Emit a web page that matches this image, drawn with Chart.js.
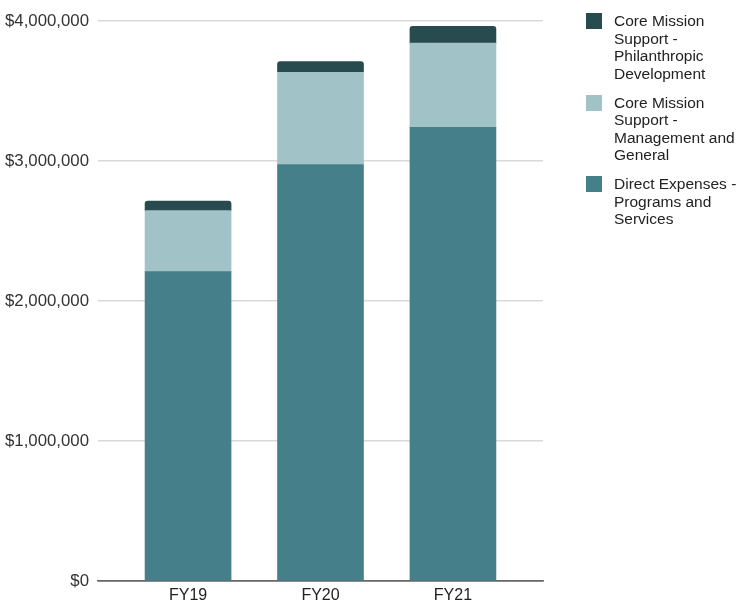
<!DOCTYPE html>
<html>
<head>
<meta charset="utf-8">
<script src="https://cdn.jsdelivr.net/npm/chart.js@4/dist/chart.umd.min.js"></script>
<style>
  html, body { margin: 0; padding: 0; background: #fff; }
  #wrap { width: 748px; height: 604px; position: relative; }
  #legenda {
    position: absolute; left: 586px; top: 12px;
    font-family: "Liberation Sans", Arial, sans-serif;
    font-size: 15.5px; line-height: 17.5px; color: #222;
  }
  .item { display: flex; align-items: flex-start; margin-bottom: 11.5px; }
  .caixa { width: 16px; height: 16px; margin-top: 1px; margin-right: 12px; flex: none; }
</style>
</head>
<body>
<div id="wrap">
  <canvas id="grafico-despesas"></canvas>
  <div id="legenda"></div>
</div>
<script>
// dados
const categorias = ['FY19', 'FY20', 'FY21'];
const despesasDiretas = [2210000, 2975000, 3240000];
const gestaoGeral = [436000, 659000, 602000];
const filantropia = [67000, 77000, 120000];

const rotulosSeries = [
  ['Direct Expenses -', 'Programs and', 'Services'],
  ['Core Mission', 'Support -', 'Management and', 'General'],
  ['Core Mission', 'Support -', 'Philanthropic', 'Development']
];
const coresSeries = ['#457f89', '#a1c3c8', '#274b4f'];
const ticksY = [0, 1000000, 2000000, 3000000, 4000000];

const fonte = '"Liberation Sans", Arial, sans-serif';

// monta os pontos {x, y} para o eixo linear
function pontos(valores) {
  return valores.map(function (v, i) { return { x: i, y: v }; });
}

const config = {
  type: 'bar',
  data: {
    datasets: [
      {
        label: rotulosSeries[0].join(' '),
        data: pontos(despesasDiretas),
        backgroundColor: coresSeries[0],
        barThickness: 86,
        borderRadius: 0
      },
      {
        label: rotulosSeries[1].join(' '),
        data: pontos(gestaoGeral),
        backgroundColor: coresSeries[1],
        barThickness: 86,
        borderRadius: 0
      },
      {
        label: rotulosSeries[2].join(' '),
        data: pontos(filantropia),
        backgroundColor: coresSeries[2],
        barThickness: 86,
        borderRadius: { topLeft: 3, topRight: 3, bottomLeft: 0, bottomRight: 0 },
        borderSkipped: false
      }
    ]
  },
  options: {
    responsive: true,
    maintainAspectRatio: false,
    animation: false,
    layout: { padding: { left: 5, top: 0, right: 205, bottom: 0 } },
    scales: {
      x: {
        type: 'linear',
        stacked: true,
        offset: false,
        min: -0.68,
        max: 2.68,
        afterBuildTicks: function (escala) {
          escala.ticks = categorias.map(function (c, i) { return { value: i }; });
        },
        afterFit: function (escala) { escala.height = 23; },
        ticks: {
          padding: 7,
          color: '#222',
          maxRotation: 0,
          font: { family: fonte, size: 16, lineHeight: 1 },
          callback: function (v) { return categorias[v]; }
        },
        grid: { display: false, drawTicks: false },
        border: { display: true, color: '#666', width: 1.5 }
      },
      x2: {
        position: 'top',
        display: true,
        grid: { display: false, drawTicks: false },
        ticks: { display: false },
        border: { display: false },
        afterFit: function (escala) { escala.height = 21; }
      },
      y: {
        stacked: true,
        min: 0,
        max: 4000000,
        afterBuildTicks: function (escala) {
          escala.ticks = ticksY.map(function (v) { return { value: v }; });
        },
        afterFit: function (escala) { escala.width = 93; },
        ticks: {
          padding: 9,
          color: '#333',
          font: { family: fonte, size: 16.8 },
          callback: function (v) { return '$' + v.toLocaleString('en-US'); }
        },
        grid: {
          drawTicks: false,
          lineWidth: 1.5,
          color: function (ctx) { return ctx.tick && ctx.tick.value === 0 ? '#666' : '#d9d9d9'; }
        },
        border: { display: false }
      }
    },
    plugins: {
      tooltip: { enabled: false },
      legend: { display: false }
    }
  }
};

new Chart(document.getElementById('grafico-despesas'), config);

// legenda em HTML, da série de cima para a de baixo
const legenda = document.getElementById('legenda');
for (let i = rotulosSeries.length - 1; i >= 0; i--) {
  const item = document.createElement('div');
  item.className = 'item';
  const caixa = document.createElement('div');
  caixa.className = 'caixa';
  caixa.style.background = coresSeries[i];
  const texto = document.createElement('div');
  texto.innerHTML = rotulosSeries[i].join('<br>');
  item.appendChild(caixa);
  item.appendChild(texto);
  legenda.appendChild(item);
}
</script>
</body>
</html>
